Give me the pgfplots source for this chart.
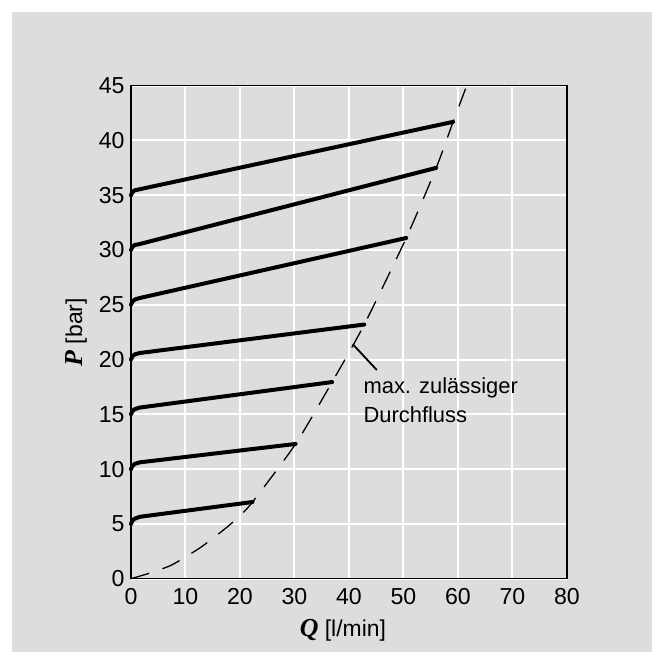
\documentclass[border=0pt]{standalone}
\usepackage{fontspec}
\setmainfont{Liberation Sans}
\newfontfamily\tnr{Liberation Serif}
\usepackage{pgfplots}
\pgfplotsset{compat=1.18}
\definecolor{bg}{RGB}{221,221,221}
\tikzset{curve/.style={black, line width=2bp, line join=round, line cap=round}}
\begin{document}
\begin{tikzpicture}
\path (-65.5bp,-42.65bp) rectangle (266.5bp,289.35bp);
\fill[bg] (-59.5bp,-36.65bp) rectangle (260.5bp,283.35bp);
\begin{axis}[
  scale only axis, width=218bp, height=246.5bp,
  xmin=0, xmax=80, ymin=0, ymax=45,
  xtick={0,10,...,80}, ytick={0,5,...,45},
  grid=major, major grid style={white, line width=1bp},
  major tick length=0pt,
  axis line style={black, line width=0.65bp},
  /pgf/number format/assume math mode=true,
  tick label style={font=\fontsize{11.6}{13}\selectfont},
  yticklabel style={xshift=0.3bp},
  xticklabel style={yshift=-1.4bp},
  every axis x label/.style={at={(axis description cs:0.486,-0.104)}, anchor=center, font=\fontsize{11.5}{13}\selectfont},
  every axis y label/.style={at={(axis description cs:-0.126,0.5)}, rotate=90, anchor=center, font=\fontsize{11.5}{13}\selectfont},
  xlabel={{\tnr\bfseries\itshape\fontsize{13}{14}\selectfont Q} [l/min]},
  ylabel={{\tnr\bfseries\itshape\fontsize{13}{14}\selectfont P} [bar]},
  clip=false,
]
% max permissible flow (dashed)
\addplot[black, no marks, line width=0.65bp, dash pattern=on 9.5bp off 7bp, smooth, tension=0.4] coordinates {
 (0,0) (3.9,0.58) (7.2,1.19) (9.6,1.86) (12.7,2.83) (14.8,3.6) (17.6,4.7) (19.8,5.66) (22.3,7.0)
 (30.2,12.3) (36.9,17.95) (42.8,23.2) (50.5,31.1) (56,37.5) (59.1,41.7) (61.6,45)};
% characteristic lines
\addplot[curve] coordinates {(0,5) (0.25,5.3) (0.7,5.48) (1.6,5.65) (22.3,7.0)};
\addplot[curve] coordinates {(0,10) (0.25,10.3) (0.7,10.48) (1.6,10.62) (30.2,12.3)};
\addplot[curve] coordinates {(0,15) (0.25,15.3) (0.7,15.48) (1.6,15.62) (36.9,17.95)};
\addplot[curve] coordinates {(0,20) (0.25,20.3) (0.7,20.48) (1.6,20.6) (42.8,23.2)};
\addplot[curve] coordinates {(0,25) (0.25,25.3) (0.7,25.48) (1.6,25.62) (50.5,31.1)};
\addplot[curve] coordinates {(0,30) (0.25,30.3) (0.7,30.46) (1.6,30.55) (56.0,37.5)};
\addplot[curve] coordinates {(0,35) (0.25,35.3) (0.7,35.45) (1.6,35.55) (59.1,41.7)};
\draw[black, line width=0.9bp] (axis cs:40.7,21.4) -- (axis cs:45.1,19.05);
\node[anchor=base west, inner sep=0pt, font=\fontsize{11}{13}\selectfont] at (axis cs:42.6,16.94) {max. zulässiger};
\node[anchor=base west, inner sep=0pt, font=\fontsize{11}{13}\selectfont] at (axis cs:42.6,14.3) {Durchfluss};
\end{axis}
\end{tikzpicture}
\end{document}
